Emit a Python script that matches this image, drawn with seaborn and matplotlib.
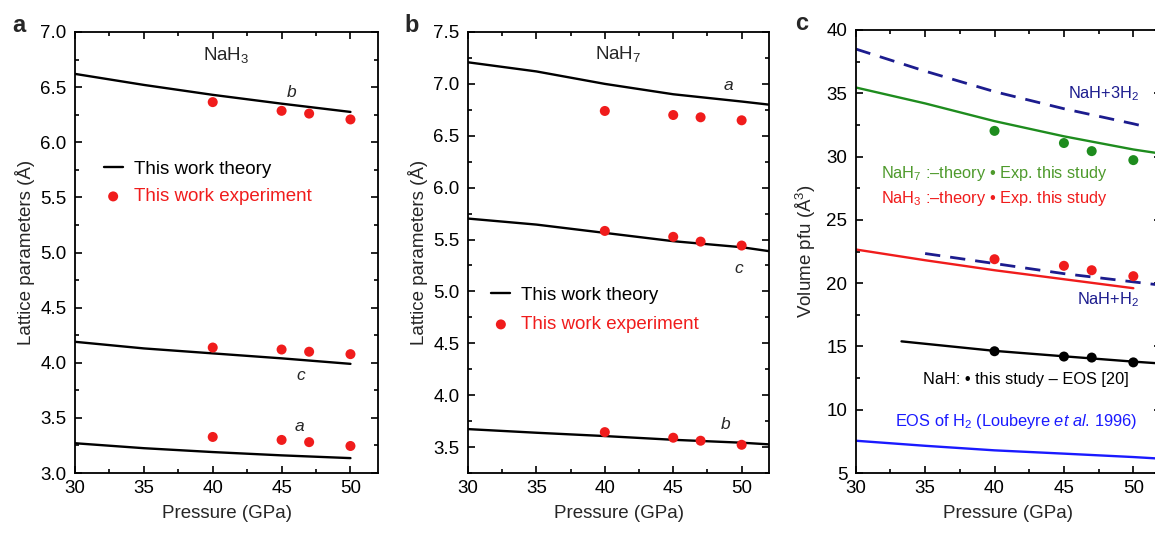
import matplotlib
matplotlib.use("Agg")
import matplotlib.pyplot as plt
from matplotlib.ticker import MultipleLocator, FormatStrFormatter
from matplotlib.collections import PathCollection
import seaborn as sns

sns.set_style("ticks")
plt.rcParams['font.family'] = ['Liberation Sans', 'DejaVu Sans']
plt.rcParams['mathtext.fontset'] = 'custom'
plt.rcParams['mathtext.rm'] = 'Liberation Sans'
plt.rcParams['mathtext.it'] = 'Liberation Sans:italic'
plt.rcParams['mathtext.bf'] = 'Liberation Sans:bold'

# ---------------- data ----------------
P_exp = [40, 45, 47, 50]

# panel a: NaH3 lattice parameters
P_th_a = [30, 35, 40, 45, 50]
nah3_b_th = [6.62, 6.52, 6.43, 6.35, 6.275]
nah3_c_th = [4.19, 4.13, 4.085, 4.04, 3.99]
nah3_a_th = [3.27, 3.225, 3.19, 3.16, 3.135]
nah3_b_exp = [6.364, 6.285, 6.26, 6.207]
nah3_c_exp = [4.138, 4.12, 4.10, 4.078]
nah3_a_exp = [3.327, 3.30, 3.28, 3.245]

# panel b: NaH7 lattice parameters
P_th_b = [30, 35, 40, 45, 50, 52]
nah7_a_th = [7.208, 7.12, 7.0, 6.90, 6.83, 6.80]
nah7_c_th = [5.702, 5.644, 5.564, 5.484, 5.426, 5.388]
nah7_b_th = [3.673, 3.638, 3.606, 3.57, 3.542, 3.526]
nah7_a_exp = [6.739, 6.70, 6.678, 6.649]
nah7_c_exp = [5.583, 5.526, 5.48, 5.442]
nah7_b_exp = [3.644, 3.59, 3.561, 3.522]

# panel c: volume per formula unit
P_3h2 = [30, 35, 40, 45, 50, 51]
v_3h2 = [38.5, 36.75, 35.13, 33.78, 32.59, 32.33]
P_nah7 = [30, 35, 40, 45, 50, 52]
v_nah7_th = [35.46, 34.2, 32.8, 31.6, 30.56, 30.23]
v_nah7_exp = [32.03, 31.07, 30.43, 29.72]
P_nah3 = [30, 35, 40, 45, 50]
v_nah3_th = [22.66, 21.81, 21.02, 20.31, 19.6]
v_nah3_exp = [21.89, 21.37, 21.02, 20.55]
P_h2mix = [35, 40, 45, 50, 52]
v_h2mix = [22.34, 21.55, 20.75, 20.1, 19.84]
P_nah = [33.3, 40, 45, 50, 52]
v_nah_th = [15.4, 14.65, 14.22, 13.8, 13.65]
v_nah_exp = [14.62, 14.2, 14.12, 13.74]
P_h2 = [30, 35, 40, 45, 50, 52]
v_h2 = [7.55, 7.15, 6.79, 6.53, 6.26, 6.13]

RED = '#f01c1c'
GREEN = '#1e8c1e'
GREEN_TXT = '#4e9a2c'
NAVY = '#1c1c8e'
BLUE = '#1a1aff'

FS = 13.5
fig = plt.figure(figsize=(11.55, 5.47), dpi=100)

def style(ax, xlim, ylim, ymaj, ymin):
    ax.set_xlim(*xlim)
    ax.set_ylim(*ylim)
    ax.xaxis.set_major_locator(MultipleLocator(5))
    ax.xaxis.set_minor_locator(MultipleLocator(2.5))
    ax.yaxis.set_major_locator(MultipleLocator(ymaj))
    ax.yaxis.set_minor_locator(MultipleLocator(ymin))
    ax.tick_params(which='both', direction='in', top=True, right=True,
                   width=1.2, labelsize=FS, colors='black')
    ax.tick_params(which='major', length=5)
    ax.tick_params(which='minor', length=3)
    ax.tick_params(axis='y', which='major', pad=6)
    ax.tick_params(axis='x', which='major', pad=5)
    for s in ax.spines.values():
        s.set_linewidth(1.3)
        s.set_color('black')
    ax.set_xlabel('Pressure (GPa)', fontsize=FS, labelpad=6)

def scatter_handle(ax):
    return [c for c in ax.collections if isinstance(c, PathCollection)][0]

LW = 1.7
MS = 52

# ---------- panel a ----------
axa = fig.add_axes([75/1155, 74/547, 303/1155, 441/547])
for yth in (nah3_b_th, nah3_c_th, nah3_a_th):
    sns.lineplot(x=P_th_a, y=yth, ax=axa, color='black', lw=LW, legend=False)
for yex in (nah3_b_exp, nah3_c_exp, nah3_a_exp):
    sns.scatterplot(x=P_exp, y=yex, ax=axa, color=RED, s=MS, edgecolor='none', legend=False, zorder=3)
style(axa, (30, 52), (3.0, 7.0), 0.5, 0.25)
axa.yaxis.set_major_formatter(FormatStrFormatter('%.1f'))
axa.set_ylabel('Lattice parameters (Å)', fontsize=FS, labelpad=4)
axa.text(41.0, 6.79, 'NaH$_3$', fontsize=FS, ha='center', va='center')
axa.text(45.76, 6.45, 'b', fontsize=12.5, style='italic', ha='center', va='center')
axa.text(46.4, 3.887, 'c', fontsize=12.5, style='italic', ha='center', va='center')
axa.text(46.26, 3.418, 'a', fontsize=12.5, style='italic', ha='center', va='center')
lega = axa.legend([axa.lines[0], scatter_handle(axa)], ['This work theory', 'This work experiment'],
                  loc='upper left', bbox_to_anchor=(0.095, 0.708), frameon=False, fontsize=FS,
                  handlelength=1.0, handletextpad=0.6, labelspacing=0.55, borderpad=0, borderaxespad=0)
for t, c in zip(lega.get_texts(), ['black', RED]):
    t.set_color(c)

# ---------- panel b ----------
axb = fig.add_axes([468/1155, 74/547, 301/1155, 441/547])
for yth in (nah7_a_th, nah7_c_th, nah7_b_th):
    sns.lineplot(x=P_th_b, y=yth, ax=axb, color='black', lw=LW, legend=False)
for yex in (nah7_a_exp, nah7_c_exp, nah7_b_exp):
    sns.scatterplot(x=P_exp, y=yex, ax=axb, color=RED, s=MS, edgecolor='none', legend=False, zorder=3)
style(axb, (30, 52), (3.25, 7.5), 0.5, 0.25)
axb.yaxis.set_major_formatter(FormatStrFormatter('%.1f'))
axb.set_ylabel('Lattice parameters (Å)', fontsize=FS, labelpad=4)
axb.text(40.95, 7.29, 'NaH$_7$', fontsize=FS, ha='center', va='center')
axb.text(49.02, 6.98, 'a', fontsize=12.5, style='italic', ha='center', va='center')
axb.text(49.8, 5.217, 'c', fontsize=12.5, style='italic', ha='center', va='center')
axb.text(48.85, 3.716, 'b', fontsize=12.5, style='italic', ha='center', va='center')
legb = axb.legend([axb.lines[0], scatter_handle(axb)], ['This work theory', 'This work experiment'],
                  loc='upper left', bbox_to_anchor=(0.078, 0.422), frameon=False, fontsize=FS,
                  handlelength=1.0, handletextpad=0.6, labelspacing=0.65, borderpad=0, borderaxespad=0)
for t, c in zip(legb.get_texts(), ['black', RED]):
    t.set_color(c)

# ---------- panel c ----------
axc = fig.add_axes([855.7/1155, 74/547, 305.4/1155, 443/547])
sns.lineplot(x=P_3h2, y=v_3h2, ax=axc, color=NAVY, lw=2.0, legend=False)
axc.lines[-1].set_dashes((5.5, 3.6))
sns.lineplot(x=P_nah7, y=v_nah7_th, ax=axc, color=GREEN, lw=LW, legend=False)
sns.scatterplot(x=P_exp, y=v_nah7_exp, ax=axc, color=GREEN, s=MS, edgecolor='none', legend=False, zorder=3)
sns.lineplot(x=P_nah3, y=v_nah3_th, ax=axc, color=RED, lw=LW, legend=False)
sns.lineplot(x=P_h2mix, y=v_h2mix, ax=axc, color=NAVY, lw=2.0, legend=False)
axc.lines[-1].set_dashes((5.5, 3.6))
sns.scatterplot(x=P_exp, y=v_nah3_exp, ax=axc, color=RED, s=MS, edgecolor='none', legend=False, zorder=3)
sns.lineplot(x=P_nah, y=v_nah_th, ax=axc, color='black', lw=LW, legend=False)
sns.scatterplot(x=P_exp, y=v_nah_exp, ax=axc, color='black', s=MS, edgecolor='none', legend=False, zorder=3)
sns.lineplot(x=P_h2, y=v_h2, ax=axc, color=BLUE, lw=LW, legend=False)
style(axc, (30, 52), (5, 40), 5, 2.5)
axc.set_ylabel('Volume pfu (Å$^3$)', fontsize=FS, labelpad=6)
TS = 11.8
axc.text(45.3, 35.0, 'NaH+3H$_2$', fontsize=TS, color=NAVY, ha='left', va='center')
axc.text(31.8, 28.7, 'NaH$_7$ :–theory • Exp. this study', fontsize=TS, color=GREEN_TXT, ha='left', va='center')
axc.text(31.8, 26.66, 'NaH$_3$ :–theory • Exp. this study', fontsize=TS, color=RED, ha='left', va='center')
axc.text(45.93, 18.7, 'NaH+H$_2$', fontsize=TS, color=NAVY, ha='left', va='center')
axc.text(34.88, 12.42, 'NaH: • this study – EOS [20]', fontsize=TS, color='black', ha='left', va='center')
axc.text(32.82, 9.07, r'EOS of H$_2$ (Loubeyre $\it{et\ al.}\,$1996)', fontsize=TS, color=BLUE, ha='left', va='center')

# panel letters
fig.text(12/1155, 1 - 25/547, 'a', fontsize=17, fontweight='bold', va='center', ha='left')
fig.text(404/1155, 1 - 25/547, 'b', fontsize=17, fontweight='bold', va='center', ha='left')
fig.text(795/1155, 1 - 24/547, 'c', fontsize=17, fontweight='bold', va='center', ha='left')

fig.savefig('out.png', dpi=100)
